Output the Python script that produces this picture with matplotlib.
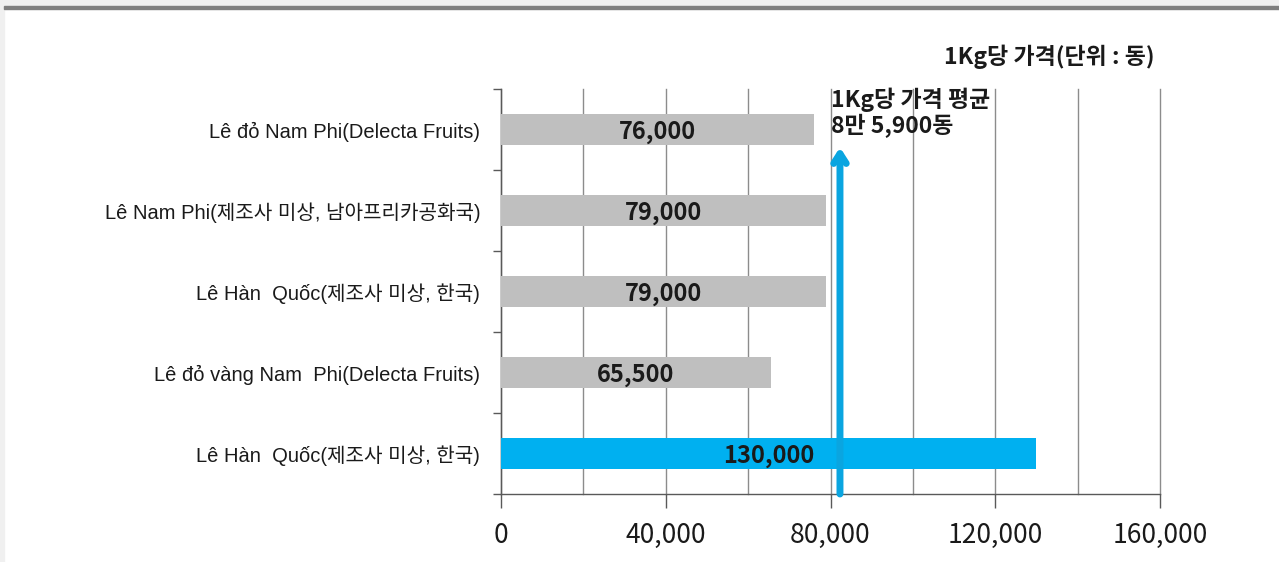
import matplotlib
matplotlib.use("Agg")
import matplotlib.pyplot as plt
from matplotlib.ticker import MultipleLocator
import numpy as np

categories = [
    "Lê đỏ Nam Phi(Delecta Fruits)",
    "Lê Nam Phi(제조사 미상, 남아프리카공화국)",
    "Lê Hàn  Quốc(제조사 미상, 한국)",
    "Lê đỏ vàng Nam  Phi(Delecta Fruits)",
    "Lê Hàn  Quốc(제조사 미상, 한국)",
]
values = [76000, 79000, 79000, 65500, 130000]
bar_labels = ["76,000", "79,000", "79,000", "65,500", "130,000"]
bar_colors = ["#BFBFBF", "#BFBFBF", "#BFBFBF", "#BFBFBF", "#00B0F0"]
x_ticks = [0, 40000, 80000, 120000, 160000]
x_tick_labels = ["0", "40,000", "80,000", "120,000", "160,000"]
avg_arrow_x = 82300
avg_text = "1Kg당 가격 평균\n8만 5,900동"
unit_text = "1Kg당 가격(단위 : 동)"

KR = ["Noto Sans CJK KR", "DejaVu Sans"]
LAT = ["Liberation Sans", "Noto Sans CJK KR", "DejaVu Sans"]

fig = plt.figure(figsize=(12.79, 5.62), dpi=100)
fig.patch.set_facecolor("white")

# frame decorations
fig.add_artist(plt.Rectangle((0, 0), 4/1279, 1, transform=fig.transFigure,
                             color="#F0F0F0", zorder=0))
fig.add_artist(plt.Rectangle((0, 1 - 6/562), 1, 6/562, transform=fig.transFigure,
                             color="#F0F0F0", zorder=0))
fig.add_artist(plt.Rectangle((4/1279, 1 - 9/562), 1, 3/562, transform=fig.transFigure,
                             color="#7F7F7F", zorder=1))

ax = fig.add_axes([501/1279, 68/562, 659/1279, 405/562])
y = np.arange(len(categories))
ax.barh(y, values, height=0.38, color=bar_colors, zorder=3)
for yi, v, lab in zip(y, values, bar_labels):
    ax.text(v / 2, yi + 0.03, lab, ha="center", va="center", fontsize=17,
            fontweight="bold", color="#1a1a1a", family=KR, zorder=4)

ax.set_xlim(0, 160000)
ax.set_ylim(len(categories) - 0.5, -0.5)

ax.set_xticks(x_ticks)
ax.set_xticklabels(x_tick_labels, family=KR, fontsize=19, color="#1a1a1a")
ax.xaxis.set_minor_locator(MultipleLocator(20000))
ax.grid(axis="x", which="both", color="#8C8C8C", lw=1, zorder=0)
for t in ax.xaxis.get_major_ticks() + ax.xaxis.get_minor_ticks():
    t.gridline.set_clip_on(False)
ax.tick_params(axis="x", which="major", length=10, width=1, color="#595959", pad=10)
ax.tick_params(axis="x", which="minor", length=0)

ax.set_yticks(y)
ax.set_yticklabels(categories, family=LAT, fontsize=14.5, color="#1a1a1a")
ax.tick_params(axis="y", which="major", length=0, pad=15)
ax.set_yticks(np.arange(-0.5, len(categories) + 0.5, 1), minor=True)
ax.tick_params(axis="y", which="minor", length=6, width=1, color="#595959")

for s in ["top", "right"]:
    ax.spines[s].set_visible(False)
for s in ["left", "bottom"]:
    ax.spines[s].set_color("#595959")
    ax.spines[s].set_linewidth(1)

# average arrow
ax.annotate("", xy=(avg_arrow_x, 0.22), xytext=(avg_arrow_x, 4.5),
            arrowprops=dict(arrowstyle="->,head_length=0.7,head_width=0.45",
                            color="#0AA5E0", lw=5, shrinkA=0, shrinkB=0),
            zorder=5, annotation_clip=False)

fig.text(831/1279, 1 - 113/562, avg_text, ha="left", va="center",
         family=KR, fontsize=16.5, fontweight="bold", color="#1a1a1a",
         linespacing=1.1)
fig.text(1155/1279, 1 - 57/562, unit_text, ha="right", va="center",
         family=KR, fontsize=16.5, fontweight="bold", color="#1a1a1a")

fig.savefig("out.png", dpi=100, facecolor="white")
